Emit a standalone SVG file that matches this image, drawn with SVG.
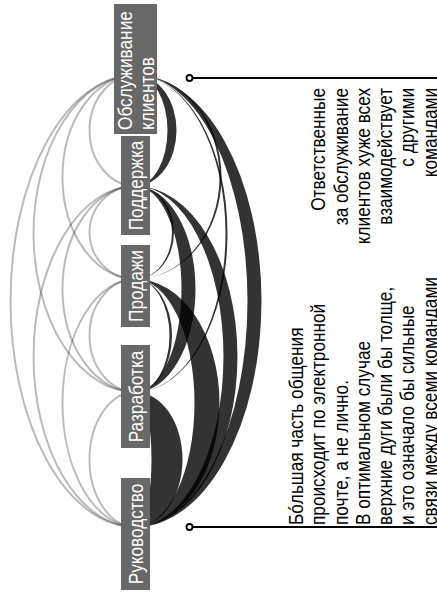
<svg xmlns="http://www.w3.org/2000/svg" width="437" height="599" viewBox="0 0 437 599">
<style>
.bg{fill:#fff}
.la{fill:none;stroke:#000;stroke-opacity:0.27;stroke-width:2}
.ra{fill:#000;fill-opacity:0.8;stroke:none}
.nr{fill:#686868}
.nt{fill:#fff;font-family:"Liberation Sans",Arial,sans-serif;font-size:21px}
.tx{fill:#000;font-family:"Liberation Sans",Arial,sans-serif;font-size:21px}
.co{stroke:#000;stroke-width:2.2;fill:none}
.dot{fill:#fff;stroke:#000;stroke-width:1.8}
</style>
<rect class="bg" x="0" y="0" width="437" height="599"/>
<g id="connectors">
  <g id="left-arcs">
    <path class="la" d="M135.5,75 A46,55.5 0 0 0 135.5,186"/>
    <path class="la" d="M135.5,186 A46,46.5 0 0 0 135.5,279"/>
    <path class="la" d="M135.5,279 A46,56.5 0 0 0 135.5,392"/>
    <path class="la" d="M135.5,392 A46,67.5 0 0 0 135.5,527"/>
    <path class="la" d="M135.5,75 A73,102 0 0 0 135.5,279"/>
    <path class="la" d="M135.5,186 A73,103 0 0 0 135.5,392"/>
    <path class="la" d="M135.5,279 A73,124 0 0 0 135.5,527"/>
    <path class="la" d="M135.5,75 A102,158.5 0 0 0 135.5,392"/>
    <path class="la" d="M135.5,186 A102,170.5 0 0 0 135.5,527"/>
    <path class="la" d="M135.5,75 A125,226 0 0 0 135.5,527"/>
  </g>
  <g id="right-arcs">
    <path class="ra" d="M135.5,75 A41,55.5 0 0 1 135.5,186 A32,55.5 0 0 0 135.5,75 Z"/>
    <path class="ra" d="M135.5,186 A38.5,46.5 0 0 1 135.5,279 A36.5,46.5 0 0 0 135.5,186 Z"/>
    <path class="ra" d="M135.5,279 A36.5,56.5 0 0 1 135.5,392 A34,56.5 0 0 0 135.5,279 Z"/>
    <path class="ra" d="M135.5,392 A47,67.5 0 0 1 135.5,527 A16,67.5 0 0 0 135.5,392 Z"/>
    <path class="ra" d="M135.5,75 A86,102 0 0 1 135.5,279 A84,102 0 0 0 135.5,75 Z"/>
    <path class="ra" d="M135.5,186 A60,103 0 0 1 135.5,392 A46,103 0 0 0 135.5,186 Z"/>
    <path class="ra" d="M135.5,279 A84,124 0 0 1 135.5,527 A59,124 0 0 0 135.5,279 Z"/>
    <path class="ra" d="M135.5,75 A92,158.5 0 0 1 135.5,392 A90,158.5 0 0 0 135.5,75 Z"/>
    <path class="ra" d="M135.5,186 A102,170.5 0 0 1 135.5,527 A88,170.5 0 0 0 135.5,186 Z"/>
    <path class="ra" d="M135.5,75 A126,226 0 0 1 135.5,527 A112,226 0 0 0 135.5,75 Z"/>
  </g>
  <g id="callouts">
    <line class="co" x1="192" y1="78" x2="437" y2="78"/>
    <circle class="dot" cx="189.5" cy="78" r="3"/>
    <line class="co" x1="192" y1="527" x2="437" y2="527"/>
    <circle class="dot" cx="189.5" cy="527" r="3"/>
  </g>
</g>
<g id="node-service">
  <rect class="nr" x="114" y="4" width="43" height="130"/>
  <g transform="rotate(-90) scale(0.82,1)">
    <text class="nt" x="-158.54" y="132">Обслуживание</text>
    <text class="nt" x="-158.54" y="154">клиентов</text>
  </g>
</g>
<g id="node-support">
  <rect class="nr" x="121" y="136" width="29" height="99"/>
  <text class="nt" transform="rotate(-90) scale(0.82,1)" x="-226.22" y="143" text-anchor="middle">Поддержка</text>
</g>
<g id="node-sales">
  <rect class="nr" x="121" y="245" width="29" height="82"/>
  <text class="nt" transform="rotate(-90) scale(0.82,1)" x="-348.78" y="143" text-anchor="middle">Продажи</text>
</g>
<g id="node-dev">
  <rect class="nr" x="121" y="345" width="29" height="103"/>
  <text class="nt" transform="rotate(-90) scale(0.82,1)" x="-483.54" y="143" text-anchor="middle">Разработка</text>
</g>
<g id="node-mgmt">
  <rect class="nr" x="121" y="478" width="29" height="112"/>
  <text class="nt" transform="rotate(-90) scale(0.82,1)" x="-651.22" y="143" text-anchor="middle">Руководство</text>
</g>
<g id="note-top" transform="rotate(-90) scale(0.82,1)">
  <text class="tx" x="-107.32" y="325.3" text-anchor="end">Ответственные</text>
  <text class="tx" x="-107.32" y="347.6" text-anchor="end">за обслуживание</text>
  <text class="tx" x="-107.32" y="369.9" text-anchor="end">клиентов хуже всех</text>
  <text class="tx" x="-107.32" y="392.2" text-anchor="end">взаимодействует</text>
  <text class="tx" x="-107.32" y="414.5" text-anchor="end">с другими</text>
  <text class="tx" x="-107.32" y="436.8" text-anchor="end">командами</text>
</g>
<g id="note-bottom" transform="rotate(-90) scale(0.82,1)">
  <text class="tx" x="-640.24" y="303">Бóльшая часть общения</text>
  <text class="tx" x="-640.24" y="325.3">происходит по электронной</text>
  <text class="tx" x="-640.24" y="347.6">почте, а не лично.</text>
  <text class="tx" x="-640.24" y="369.9">В оптимальном случае</text>
  <text class="tx" x="-640.24" y="392.2">верхние дуги были бы толще,</text>
  <text class="tx" x="-640.24" y="414.5">и это означало бы сильные</text>
  <text class="tx" x="-640.24" y="436.8">связи между всеми командами</text>
</g>
</svg>
